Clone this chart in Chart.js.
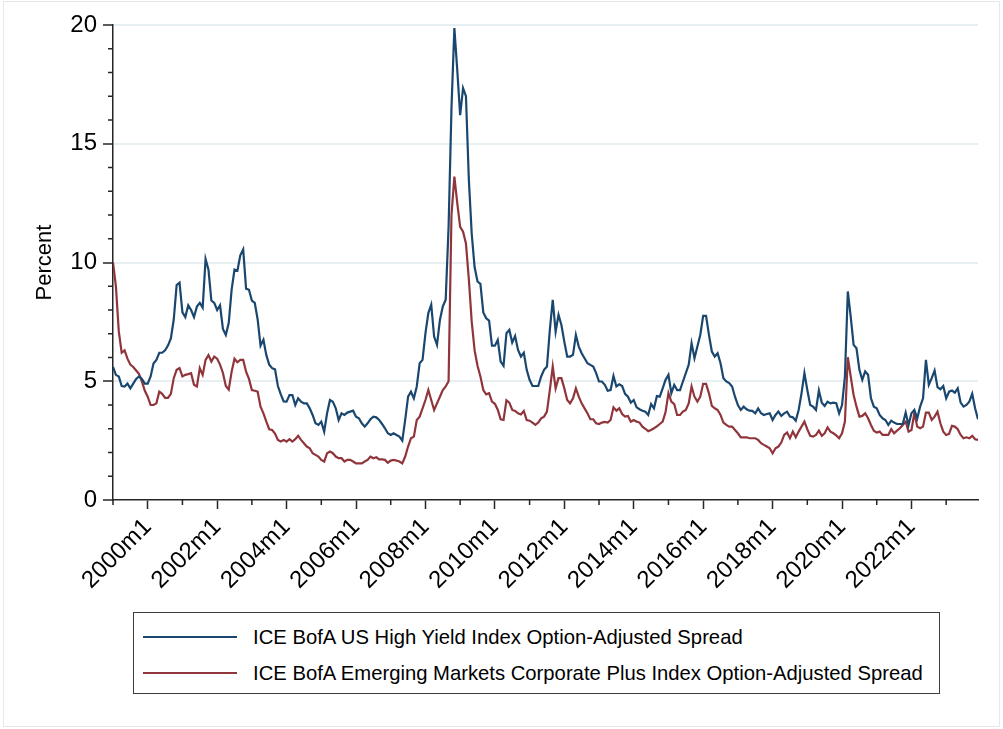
<!DOCTYPE html>
<html>
<head>
<meta charset="utf-8">
<title>ICE BofA spreads</title>
<script src="https://cdn.jsdelivr.net/npm/chart.js@4.4.0/dist/chart.umd.min.js"></script>
<style>
    html, body { margin: 0; padding: 0; background: #fff; }
    #wrap { position: relative; width: 1003px; height: 729px; overflow: hidden; }
    #frame {
        position: absolute; left: 3px; top: 1px; width: 997px; height: 726px;
        border: 1px solid #e3e9ed; box-sizing: border-box; pointer-events: none;
    }
    #chart { position: absolute; left: 0; top: 0; }
    #legend {
        position: absolute; left: 133px; top: 612px; width: 807px; height: 82px;
        border: 1.5px solid #3c3c3c; box-sizing: border-box; background: #fff;
        font-family: "Liberation Sans", Arial, sans-serif; font-size: 20.25px; color: #000;
    }
    .row { position: absolute; left: 9px; height: 24px; display: flex; align-items: center; white-space: nowrap; }
    .swatch { width: 94px; height: 2px; margin-right: 16px; }
</style>
</head>
<body>
<div id="wrap">
    <canvas id="chart" width="1003" height="729"></canvas>
    <div id="frame"></div>
    <div id="legend"></div>
</div>
<script>
// --------------------------------------------------------------------
// DATA  (monthly, 1999m1 .. 2023m12, one row per year)
// --------------------------------------------------------------------
const startYear = 1999;

const highYield = [
    5.6, 5.27, 5.2, 4.8, 4.78, 4.9, 4.7, 4.9, 5.1, 5.2, 5.1, 4.9,           // 1999
    4.9, 5.2, 5.75, 5.9, 6.2, 6.2, 6.3, 6.5, 6.8, 7.6, 9.05, 9.15,          // 2000
    7.9, 7.7, 8.2, 8.0, 7.7, 8.15, 8.3, 8.1, 10.15, 9.7, 8.4, 8.3,          // 2001
    8.0, 8.2, 7.2, 6.95, 7.45, 8.85, 9.7, 9.65, 10.3, 10.55, 8.9, 8.85,     // 2002
    8.4, 8.3, 7.6, 6.5, 6.75, 6.1, 5.7, 5.55, 5.5, 4.8, 4.45, 4.15,         // 2003
    4.14, 4.42, 4.42, 4.0, 4.28, 4.14, 4.07, 4.07, 3.86, 3.58, 3.23, 3.16,  // 2004
    3.3, 2.88, 3.65, 4.21, 4.14, 3.86, 3.37, 3.65, 3.58, 3.68, 3.72, 3.76,  // 2005
    3.51, 3.44, 3.23, 3.09, 3.23, 3.4, 3.51, 3.48, 3.37, 3.2, 3.02, 2.81,   // 2006
    2.74, 2.81, 2.74, 2.67, 2.5, 3.37, 4.35, 4.56, 4.28, 4.78, 5.76, 5.9,   // 2007
    7.02, 7.87, 8.22, 6.88, 6.53, 7.58, 8.15, 8.43, 11.5, 16.5, 19.87, 18.1, // 2008
    16.2, 17.34, 17.0, 13.5, 11.2, 9.8, 9.2, 9.1, 7.9, 7.65, 7.55, 6.5,     // 2009
    6.5, 6.74, 5.83, 5.65, 7.02, 7.16, 6.63, 6.9, 6.32, 6.04, 6.2, 5.48,    // 2010
    5.06, 4.8, 4.8, 4.8, 5.2, 5.48, 5.62, 7.16, 8.43, 7.09, 7.8, 7.37,      // 2011
    6.67, 6.04, 6.04, 6.11, 6.95, 6.46, 6.18, 5.97, 5.76, 5.69, 5.62, 5.34, // 2012
    4.99, 4.99, 4.85, 4.6, 4.63, 5.22, 4.78, 4.87, 4.8, 4.47, 4.35, 4.1,    // 2013
    4.21, 3.9, 3.82, 3.76, 3.72, 3.58, 4.04, 3.86, 4.38, 4.35, 4.7, 5.06,   // 2014
    5.27, 4.5, 4.85, 4.63, 4.63, 4.99, 5.34, 5.69, 6.6, 5.97, 6.46, 6.95,   // 2015
    7.75, 7.75, 6.95, 6.25, 6.04, 6.18, 5.76, 5.13, 4.99, 4.92, 4.78, 4.35, // 2016
    4.0, 3.79, 3.93, 3.82, 3.76, 3.75, 3.65, 3.86, 3.65, 3.58, 3.62, 3.65,  // 2017
    3.37, 3.58, 3.72, 3.54, 3.65, 3.72, 3.51, 3.48, 3.34, 3.79, 4.49, 5.34, // 2018
    4.63, 4.0, 3.93, 3.79, 4.61, 4.1, 3.96, 4.14, 4.07, 4.1, 4.08, 3.65,    // 2019
    4.0, 5.2, 8.78, 7.72, 6.53, 6.39, 5.48, 5.06, 5.41, 5.27, 4.28, 3.93,   // 2020
    3.86, 3.58, 3.44, 3.37, 3.16, 3.34, 3.26, 3.2, 3.2, 3.2, 3.68, 3.16,    // 2021
    3.65, 3.79, 3.44, 3.93, 4.28, 5.9, 4.85, 5.13, 5.45, 4.75, 4.66, 4.8,   // 2022
    4.28, 4.56, 4.61, 4.52, 4.7, 4.1, 3.93, 4.0, 4.14, 4.47, 3.86, 3.4      // 2023
];

const emCorporate = [
    10.0, 9.0, 7.1, 6.2, 6.3, 5.95, 5.7, 5.6, 5.45, 5.3, 4.98, 4.6,         // 1999
    4.35, 4.0, 4.0, 4.07, 4.56, 4.47, 4.3, 4.3, 4.47, 5.13, 5.48, 5.55,     // 2000
    5.2, 5.27, 5.3, 5.34, 4.85, 4.78, 5.55, 5.27, 5.9, 6.1, 5.83, 6.04,     // 2001
    5.95, 5.7, 5.35, 4.8, 4.65, 5.4, 5.95, 5.8, 5.9, 5.9, 5.4, 5.1,         // 2002
    4.63, 4.6, 4.56, 3.93, 3.65, 3.3, 2.98, 2.95, 2.8, 2.53, 2.46, 2.53,    // 2003
    2.46, 2.56, 2.46, 2.56, 2.7, 2.53, 2.39, 2.25, 2.18, 1.97, 1.9, 1.83,   // 2004
    1.69, 1.62, 1.97, 2.04, 1.97, 1.83, 1.76, 1.76, 1.62, 1.69, 1.69, 1.62, // 2005
    1.54, 1.54, 1.54, 1.62, 1.69, 1.83, 1.76, 1.8, 1.71, 1.71, 1.69, 1.57,  // 2006
    1.66, 1.69, 1.66, 1.62, 1.54, 1.83, 2.25, 2.6, 2.67, 3.37, 3.51, 3.86,  // 2007
    4.21, 4.63, 4.21, 3.79, 4.07, 4.35, 4.63, 4.78, 5.0, 12.0, 13.62, 12.5, // 2008
    11.5, 11.3, 10.8, 9.3, 7.5, 6.3, 5.65, 5.2, 4.63, 4.45, 4.5, 4.14,     // 2009
    4.05, 3.8, 3.4, 3.37, 4.2, 4.1, 3.79, 3.75, 3.65, 3.6, 3.75, 3.37,      // 2010
    3.34, 3.26, 3.16, 3.26, 3.44, 3.51, 3.72, 4.63, 5.62, 4.7, 5.13, 5.13,  // 2011
    4.7, 4.21, 4.07, 4.28, 4.7, 4.35, 4.07, 3.86, 3.65, 3.4, 3.4, 3.23,     // 2012
    3.2, 3.26, 3.29, 3.26, 3.37, 3.9, 3.76, 3.86, 3.62, 3.51, 3.54, 3.3,    // 2013
    3.37, 3.3, 3.26, 3.09, 3.0, 2.9, 2.95, 3.02, 3.1, 3.2, 3.3, 3.7,        // 2014
    4.5, 4.14, 4.04, 3.58, 3.58, 3.72, 3.79, 4.07, 4.78, 4.35, 4.14, 4.35,  // 2015
    4.89, 4.89, 4.49, 3.96, 3.86, 3.79, 3.58, 3.26, 3.16, 3.09, 3.09, 2.95, // 2016
    2.81, 2.64, 2.64, 2.64, 2.6, 2.6, 2.6, 2.53, 2.39, 2.32, 2.25, 2.18,    // 2017
    1.97, 2.18, 2.25, 2.42, 2.74, 2.84, 2.6, 2.88, 2.64, 2.88, 3.09, 3.3,   // 2018
    2.98, 2.7, 2.67, 2.74, 2.92, 2.7, 2.81, 3.06, 2.88, 2.81, 2.72, 2.6,    // 2019
    2.81, 3.3, 6.01, 5.2, 4.42, 3.93, 3.51, 3.54, 3.65, 3.44, 3.16, 2.92,   // 2020
    2.84, 2.88, 2.74, 2.74, 2.74, 2.98, 2.81, 2.92, 3.02, 3.16, 3.3, 2.88,  // 2021
    2.95, 3.65, 3.09, 3.02, 3.09, 3.68, 3.68, 3.37, 3.51, 3.72, 3.23, 2.88, // 2022
    2.74, 2.78, 3.12, 3.09, 2.98, 2.74, 2.6, 2.64, 2.6, 2.7, 2.56, 2.53     // 2023
];

const xTickLabels = ["2000m1", "2002m1", "2004m1", "2006m1", "2008m1", "2010m1",
                     "2012m1", "2014m1", "2016m1", "2018m1", "2020m1", "2022m1"];
const yTickValues = [0, 5, 10, 15, 20];
const seriesLabels = [
    "ICE BofA US High Yield Index Option-Adjusted Spread",
    "ICE BofA Emerging Markets Corporate Plus Index Option-Adjusted Spread"
];

// --------------------------------------------------------------------
// STYLE
// --------------------------------------------------------------------
const seriesColors = ["#1a476f", "#90353b"];
const axisColor = "#262626";
const gridColor = "#e8eff2";
const fontFamily = "'Liberation Sans', Arial, sans-serif";

// month index of a "YYYYm1" label
const monthOf = label => (parseInt(label, 10) - startYear) * 12;
const lastMonth = highYield.length - 1;

// --------------------------------------------------------------------
// MINOR TICKS (Stata style: yearly on x, unit steps on y)
// --------------------------------------------------------------------
const minorTicks = {
    id: "minorTicks",
    afterDraw(chart) {
        const { ctx, chartArea, scales: { x, y } } = chart;
        ctx.save();
        ctx.strokeStyle = axisColor;
        ctx.lineWidth = 1.5;
        ctx.beginPath();
        for (let m = 0; m <= lastMonth; m += 12) {
            if ((m / 12) % 2 === 1) continue;          // labelled years handled by Chart.js
            const px = x.getPixelForValue(m);
            ctx.moveTo(px, chartArea.bottom);
            ctx.lineTo(px, chartArea.bottom + 5);
        }
        for (let v = 1; v < 20; v++) {
            if (v % 5 === 0) continue;
            const py = y.getPixelForValue(v);
            ctx.moveTo(chartArea.left, py);
            ctx.lineTo(chartArea.left - 5, py);
        }
        ctx.stroke();
        ctx.restore();
    }
};

// --------------------------------------------------------------------
// CHART
// --------------------------------------------------------------------
const toPoints = arr => arr.map((v, i) => ({ x: i, y: v }));

new Chart(document.getElementById("chart"), {
    type: "line",
    data: {
        datasets: [
            { label: seriesLabels[0], data: toPoints(highYield), borderColor: seriesColors[0] },
            { label: seriesLabels[1], data: toPoints(emCorporate), borderColor: seriesColors[1] }
        ]
    },
    options: {
        responsive: false,
        animation: false,
        devicePixelRatio: 1,
        layout: { padding: { top: 25, right: 25, left: 0, bottom: 0 } },
        elements: {
            point: { radius: 0 },
            line: { borderWidth: 2.2, tension: 0 }
        },
        plugins: {
            legend: { display: false },
            tooltip: { enabled: false }
        },
        scales: {
            x: {
                type: "linear",
                min: 0,
                max: lastMonth,
                afterFit: scale => { scale.height = 229; },
                afterBuildTicks: scale => {
                    scale.ticks = xTickLabels.map(l => ({ value: monthOf(l) }));
                },
                border: { color: axisColor, width: 1.5 },
                grid: { drawOnChartArea: false, tickLength: 9, tickColor: axisColor, tickWidth: 1.5 },
                ticks: {
                    autoSkip: false,
                    minRotation: 45,
                    maxRotation: 45,
                    padding: 4,
                    color: "#000",
                    font: { family: fontFamily, size: 24 },
                    callback: v => xTickLabels.find(l => monthOf(l) === v) || ""
                }
            },
            y: {
                min: 0,
                max: 20,
                afterFit: scale => { scale.width = 113; },
                afterBuildTicks: scale => {
                    scale.ticks = yTickValues.map(v => ({ value: v }));
                },
                border: { color: axisColor, width: 1.5 },
                grid: {
                    color: c => (c.tick && c.tick.value === 0) ? "rgba(0,0,0,0)" : gridColor,
                    lineWidth: 2,
                    tickLength: 10,
                    tickColor: axisColor,
                    tickWidth: 1.5
                },
                ticks: {
                    padding: 6,
                    color: "#000",
                    font: { family: fontFamily, size: 24 }
                },
                title: {
                    display: true,
                    text: "Percent",
                    color: "#000",
                    font: { family: fontFamily, size: 22 },
                    padding: { top: 32, bottom: 0 }
                }
            }
        }
    },
    plugins: [minorTicks]
});

// --------------------------------------------------------------------
// LEGEND (boxed, one entry per row)
// --------------------------------------------------------------------
const legend = document.getElementById("legend");
seriesLabels.forEach((label, i) => {
    const row = document.createElement("div");
    row.className = "row";
    row.style.top = (12 + i * 36) + "px";
    row.innerHTML = `<span class="swatch" style="background:${seriesColors[i]}"></span><span>${label}</span>`;
    legend.appendChild(row);
});
</script>
</body>
</html>
